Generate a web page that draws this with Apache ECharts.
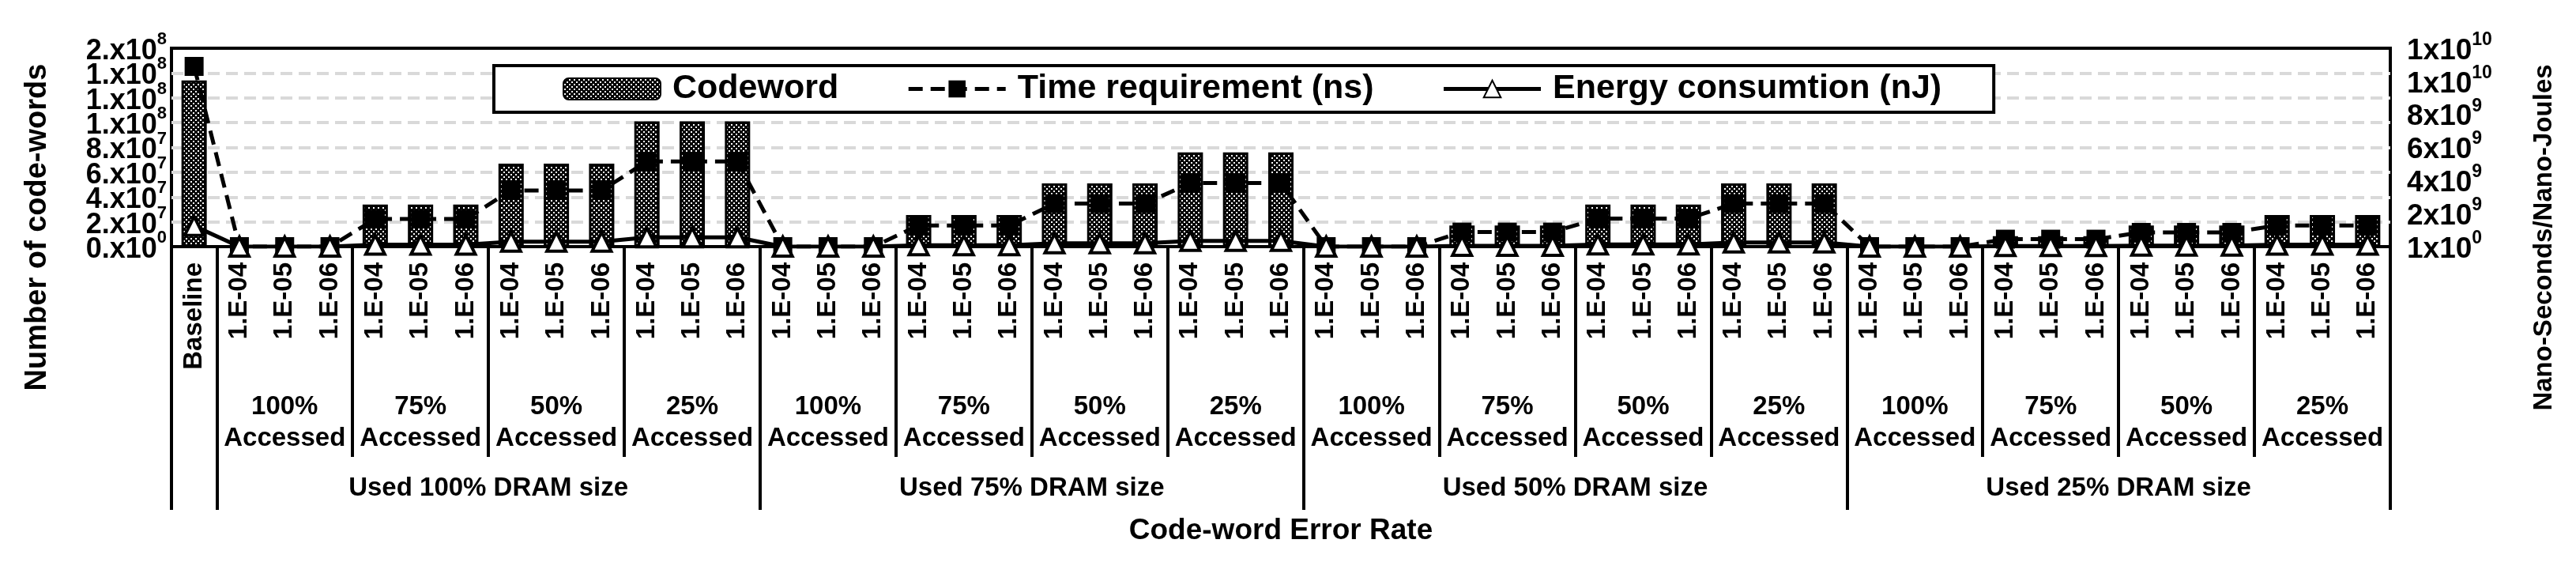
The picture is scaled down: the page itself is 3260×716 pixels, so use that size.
<!DOCTYPE html>
<html>
<head>
<meta charset="utf-8">
<script src="https://cdn.jsdelivr.net/npm/echarts@6/dist/echarts.min.js"></script>
<style>
  html, body { margin: 0; padding: 0; background: #fff; }
  #chart { width: 3260px; height: 716px; }
</style>
</head>
<body>
<div id="chart"></div>
<script>
// categories (bottom level) and the two group levels under them
var categories = ['Baseline',
  '1.E-04', '1.E-05', '1.E-06', '1.E-04', '1.E-05', '1.E-06', '1.E-04', '1.E-05', '1.E-06', '1.E-04', '1.E-05', '1.E-06',
  '1.E-04', '1.E-05', '1.E-06', '1.E-04', '1.E-05', '1.E-06', '1.E-04', '1.E-05', '1.E-06', '1.E-04', '1.E-05', '1.E-06',
  '1.E-04', '1.E-05', '1.E-06', '1.E-04', '1.E-05', '1.E-06', '1.E-04', '1.E-05', '1.E-06', '1.E-04', '1.E-05', '1.E-06',
  '1.E-04', '1.E-05', '1.E-06', '1.E-04', '1.E-05', '1.E-06', '1.E-04', '1.E-05', '1.E-06', '1.E-04', '1.E-05', '1.E-06'];
var accessLabels = ['100%\nAccessed', '75%\nAccessed', '50%\nAccessed', '25%\nAccessed',
  '100%\nAccessed', '75%\nAccessed', '50%\nAccessed', '25%\nAccessed',
  '100%\nAccessed', '75%\nAccessed', '50%\nAccessed', '25%\nAccessed',
  '100%\nAccessed', '75%\nAccessed', '50%\nAccessed', '25%\nAccessed'];
var dramLabels = ['Used 100% DRAM size', 'Used 75% DRAM size', 'Used 50% DRAM size', 'Used 25% DRAM size'];
var rateCount = 3;   // error rates per accessed group
var accessCount = 4; // accessed groups per DRAM group

// series values
var codeword = [134000000,
  0, 0, 0, 34000000, 34000000, 34000000, 67000000, 67000000, 67000000, 101000000, 101000000, 101000000,
  0, 0, 0, 25500000, 25500000, 25500000, 51000000, 51000000, 51000000, 76000000, 76000000, 76000000,
  0, 0, 0, 17000000, 17000000, 17000000, 34000000, 34000000, 34000000, 51000000, 51000000, 51000000,
  0, 0, 0, 8500000, 8500000, 8500000, 17000000, 17000000, 17000000, 25500000, 25500000, 25500000];
var timeNs = [10900000000,
  0, 0, 0, 1670000000, 1670000000, 1670000000, 3400000000, 3400000000, 3400000000, 5150000000, 5150000000, 5150000000,
  0, 0, 0, 1280000000, 1280000000, 1280000000, 2600000000, 2600000000, 2600000000, 3850000000, 3850000000, 3850000000,
  0, 0, 0, 880000000, 880000000, 880000000, 1700000000, 1700000000, 1700000000, 2600000000, 2600000000, 2600000000,
  0, 0, 0, 450000000, 450000000, 450000000, 860000000, 860000000, 860000000, 1280000000, 1280000000, 1280000000];
var energyNj = [1250000000,
  0, 0, 0, 120000000, 120000000, 120000000, 300000000, 300000000, 300000000, 560000000, 560000000, 560000000,
  0, 0, 0, 80000000, 80000000, 80000000, 200000000, 200000000, 200000000, 350000000, 350000000, 350000000,
  0, 0, 0, 50000000, 50000000, 50000000, 130000000, 130000000, 130000000, 250000000, 250000000, 250000000,
  0, 0, 0, 30000000, 30000000, 30000000, 60000000, 60000000, 60000000, 120000000, 120000000, 120000000];

// tick labels (Excel style, "^" marks the exponent)
var leftTicks = ['0.x10^0', '2.x10^7', '4.x10^7', '6.x10^7', '8.x10^7', '1.x10^8', '1.x10^8', '1.x10^8', '2.x10^8'];
var rightTicks = ['1x10^0', '2x10^9', '4x10^9', '6x10^9', '8x10^9', '1x10^10', '1x10^10'];

var FONT = 'Liberation Sans, Arial, sans-serif';

// group boundaries / centres in category units (baseline takes slot 0)
var accessEdges = [], accessCenters = [], dramEdges = [0, 1], dramCenters = [];
for (var i = 0; i < accessLabels.length; i++) {
  accessEdges.push(1 + i * rateCount);
  accessCenters.push(1 + i * rateCount + rateCount / 2);
}
accessEdges.push(categories.length);
for (var j = 0; j < dramLabels.length; j++) {
  dramEdges.push(1 + (j + 1) * rateCount * accessCount);
  dramCenters.push(1 + j * rateCount * accessCount + rateCount * accessCount / 2);
}

function makePattern () {
  var c = document.createElement('canvas');
  c.width = 6; c.height = 6;
  var g = c.getContext('2d');
  g.fillStyle = '#000';
  g.fillRect(0, 0, 6, 6);
  g.fillStyle = '#fff';
  g.fillRect(1, 1, 2, 2);
  g.fillRect(4, 4, 2, 2);
  return c;
}

function supLabel (s) {
  var p = s.split('^');
  return '{b|' + p[0] + '}{s|' + p[1] + '}';
}

// labels are tightly packed, so every axis carries only every other one
// (a twin axis carries the rest) to keep echarts from dropping any
function tickLabels (ticks, parity, size, supSize) {
  return {
    showMinLabel: true, showMaxLabel: true, hideOverlap: false,
    formatter: function (v, idx) { return idx % 2 === parity ? supLabel(ticks[idx]) : ''; },
    rich: {
      b: { fontFamily: FONT, fontSize: size, fontWeight: 'bold', color: '#000', lineHeight: 44, verticalAlign: 'bottom' },
      s: { fontFamily: FONT, fontSize: supSize, fontWeight: 'bold', color: '#000', lineHeight: supSize, verticalAlign: 'top' }
    }
  };
}

var myChart = echarts.init(document.getElementById('chart'), null, { renderer: 'canvas' });

var leftBase = {
  type: 'value', position: 'left',
  min: 0, max: 160000000, interval: 20000000,
  axisLine: { show: false },
  axisTick: { show: false }
};
var rightBase = {
  type: 'value', position: 'right',
  min: 0, max: 12000000000, interval: 2000000000,
  axisLine: { show: false },
  axisTick: { show: false },
  splitLine: { show: false }
};

var option = {
  animation: false,
  backgroundColor: '#fff',
  textStyle: { fontFamily: FONT, color: '#000' },
  grid: {
    left: 217, right: 235, top: 61, bottom: 404,
    show: true, borderColor: '#000', borderWidth: 4
  },
  legend: {
    left: 625, top: 83,
    padding: [8, 66, 8, 87],
    itemGap: 86,
    itemWidth: 123, itemHeight: 27,
    backgroundColor: '#fff', borderColor: '#000', borderWidth: 4,
    lineStyle: { width: 5 },
    textStyle: { fontFamily: FONT, fontSize: 43, fontWeight: 'bold', color: '#000', padding: [0, 0, 0, 10] },
    data: ['Codeword', 'Time requirement (ns)', 'Energy consumtion (nJ)']
  },
  xAxis: [{
    type: 'category',
    position: 'bottom',
    data: categories,
    axisLine: { lineStyle: { color: '#000', width: 4 } },
    axisTick: { show: false },
    axisLabel: {
      interval: 0, rotate: 90, margin: 20,
      fontFamily: FONT, fontSize: 33, fontWeight: 'bold', color: '#000'
    }
  }, {
    type: 'value',
    position: 'bottom',
    min: 0, max: categories.length,
    splitLine: { show: false },
    axisLine: { show: false },
    axisTick: { show: true, customValues: accessEdges, length: 266, lineStyle: { color: '#000', width: 4 } },
    axisLabel: {
      customValues: accessCenters, margin: 183,
      fontFamily: FONT, fontSize: 33, fontWeight: 'bold', lineHeight: 40, color: '#000',
      formatter: function (v) { return accessLabels[accessCenters.indexOf(v)]; }
    }
  }, {
    type: 'value',
    position: 'bottom',
    min: 0, max: categories.length,
    splitLine: { show: false },
    axisLine: { show: false },
    axisTick: { show: true, customValues: dramEdges, length: 333, lineStyle: { color: '#000', width: 4 } },
    axisLabel: {
      customValues: dramCenters, margin: 288,
      fontFamily: FONT, fontSize: 33, fontWeight: 'bold', lineHeight: 36, color: '#000',
      formatter: function (v) { return dramLabels[dramCenters.indexOf(v)]; }
    },
    name: 'Code-word Error Rate',
    nameLocation: 'middle',
    nameGap: 341,
    nameTextStyle: { fontFamily: FONT, fontSize: 37, fontWeight: 'bold', color: '#000' }
  }],
  yAxis: [
    Object.assign({}, leftBase, {
      name: 'Number of code-words',
      nameLocation: 'middle', nameRotate: 90, nameGap: 150,
      nameTextStyle: { fontFamily: FONT, fontSize: 38, fontWeight: 'bold', color: '#000', padding: [0, 202, 0, 0] },
      splitLine: { showMinLine: false, showMaxLine: false, lineStyle: { color: '#d9d9d9', width: 4, type: [15, 8] } },
      axisLabel: Object.assign({ margin: 6 }, tickLabels(leftTicks, 0, 36, 22))
    }),
    Object.assign({}, rightBase, {
      name: 'Nano-Seconds/Nano-Joules',
      nameLocation: 'middle', nameRotate: 90, nameGap: 178,
      nameTextStyle: { fontFamily: FONT, fontSize: 33, fontWeight: 'bold', color: '#000', padding: [0, 228, 0, 0] },
      axisLabel: Object.assign({ margin: 21 }, tickLabels(rightTicks, 0, 37, 23))
    }),
    Object.assign({}, leftBase, {
      splitLine: { show: false },
      axisLabel: Object.assign({ margin: 6 }, tickLabels(leftTicks, 1, 36, 22))
    }),
    Object.assign({}, rightBase, {
      axisLabel: Object.assign({ margin: 21 }, tickLabels(rightTicks, 1, 37, 23))
    })
  ],
  series: [{
    name: 'Codeword',
    type: 'bar',
    xAxisIndex: 0, yAxisIndex: 0,
    barWidth: 32,
    itemStyle: { color: { image: makePattern(), repeat: 'repeat' }, borderColor: '#000', borderWidth: 3 },
    data: codeword
  }, {
    name: 'Time requirement (ns)',
    type: 'line',
    xAxisIndex: 0, yAxisIndex: 1,
    symbol: 'rect', symbolSize: 24, showAllSymbol: true,
    lineStyle: { color: '#000', width: 5, type: [18, 10] },
    itemStyle: { color: '#000' },
    data: timeNs
  }, {
    name: 'Energy consumtion (nJ)',
    type: 'line',
    xAxisIndex: 0, yAxisIndex: 1,
    symbol: 'triangle', symbolSize: 24, showAllSymbol: true,
    lineStyle: { color: '#000', width: 5 },
    itemStyle: { color: '#fff', borderColor: '#000', borderWidth: 4 },
    data: energyNj
  }]
};

myChart.setOption(option);
</script>
</body>
</html>
